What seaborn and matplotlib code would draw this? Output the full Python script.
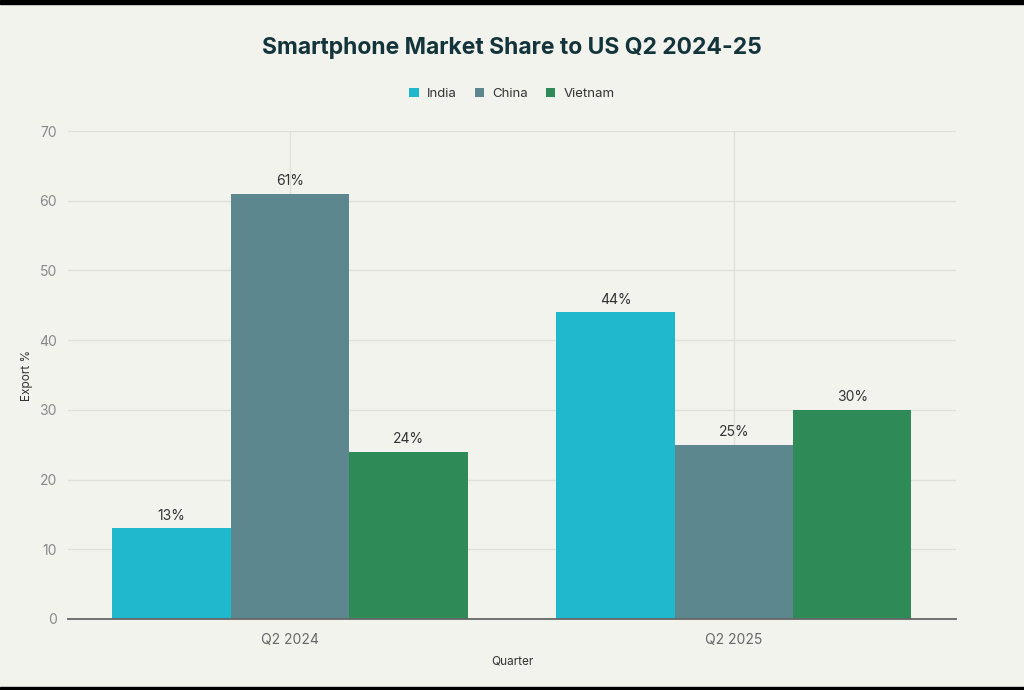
import pandas as pd
import matplotlib.pyplot as plt
import seaborn as sns

# Dados
trimestres = ["Q2 2024", "Q2 2025"]
paises = ["India", "China", "Vietnam"]
india = [13, 44]
china = [61, 25]
vietnam = [24, 30]

cores = {"India": "#1FB8CD", "China": "#5D878F", "Vietnam": "#2E8B57"}
fundo = "#F3F3EE"

df = pd.DataFrame({
    "Quarter": trimestres * 3,
    "Country": ["India"] * 2 + ["China"] * 2 + ["Vietnam"] * 2,
    "Export": india + china + vietnam,
})

sns.set_style("white")
plt.rcParams['font.family'] = ['Inter', 'DejaVu Sans']

fig = plt.figure(figsize=(10.24, 6.9), dpi=100, facecolor=fundo)
ax = fig.add_axes([0.0664, 0.1029, 0.867, 0.7072])
ax.set_facecolor(fundo)

sns.barplot(data=df, x="Quarter", y="Export", hue="Country", hue_order=paises,
            palette=cores, width=0.8, saturation=1, linewidth=0, ax=ax, zorder=3)

# Rótulos acima das barras
for cont in ax.containers:
    ax.bar_label(cont, labels=[f"{v:.0f}%" for v in cont.datavalues],
                 padding=4, fontsize=10, color="#333333")

ax.set_ylim(0, 70)
ax.set_xlim(-0.5, 1.5)
ax.set_yticks(range(0, 71, 10))
ax.grid(True, axis="both", color="#E0E0DA", linewidth=1, zorder=0)
ax.set_axisbelow(True)

for s in ["top", "right", "left"]:
    ax.spines[s].set_visible(False)
ax.spines["bottom"].set_color("#666666")
ax.spines["bottom"].set_linewidth(1.3)
ax.spines["bottom"].set_zorder(4)

ax.tick_params(axis="y", length=4, color="#D8D8D2", labelsize=10, labelcolor="#888888", pad=4)
ax.tick_params(axis="x", length=4, color="#D8D8D2", labelsize=10, labelcolor="#666666", pad=6)

ax.set_xlabel("Quarter", fontsize=8.5, color="#333333", labelpad=6)
ax.set_ylabel("Export %", fontsize=8.5, color="#333333", labelpad=4)

leg = ax.legend(loc="upper center", bbox_to_anchor=(0.5, 1.113), ncol=3,
                frameon=False, fontsize=9.5, handlelength=0.7, handleheight=0.7,
                handletextpad=0.6, columnspacing=1.4)
for t in leg.get_texts():
    t.set_color("#333333")

fig.text(0.5, 0.930, "Smartphone Market Share to US Q2 2024-25", ha="center",
         va="center", fontsize=16.5, fontweight="bold", color="#13343B")

# Bordas pretas do print original
fig.patches.append(plt.Rectangle((0, 0.994), 1, 0.006, transform=fig.transFigure,
                                 color="black", zorder=10))
fig.patches.append(plt.Rectangle((0, 0), 1, 0.005, transform=fig.transFigure,
                                 color="black", zorder=10))

fig.savefig("out.png", dpi=100, facecolor=fundo)
